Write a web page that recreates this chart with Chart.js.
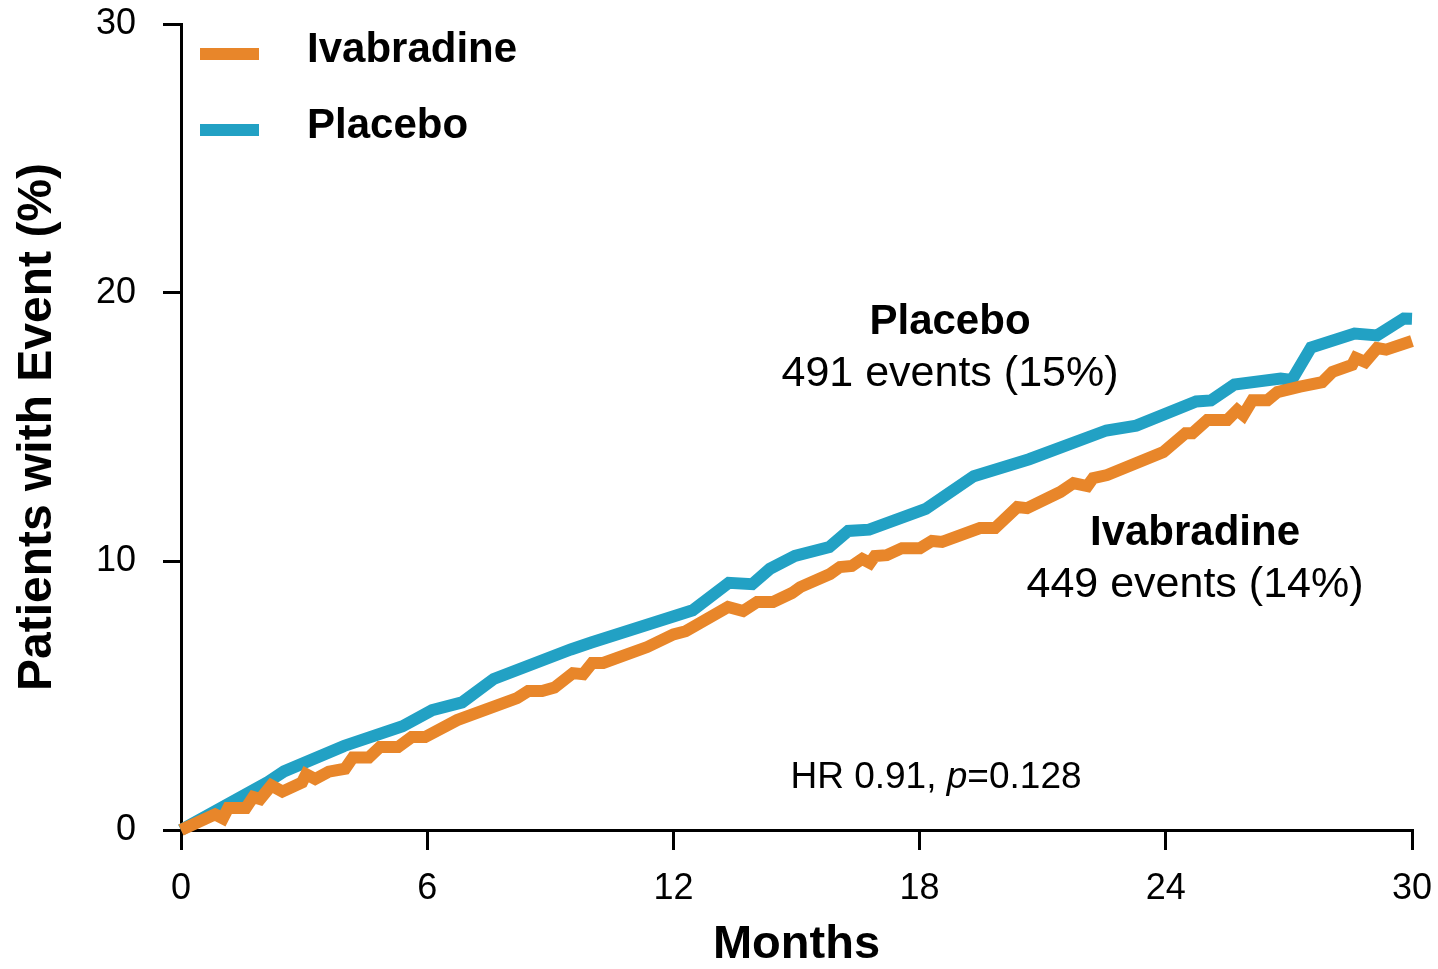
<!DOCTYPE html>
<html>
<head>
<meta charset="utf-8">
<script src="https://cdn.jsdelivr.net/npm/chart.js@4/dist/chart.umd.min.js"></script>
<style>
  html, body { margin: 0; padding: 0; background: #fff; }
  #wrap { width: 1438px; height: 969px; position: relative; }
</style>
</head>
<body>
<div id="wrap"><canvas id="myChart"></canvas></div>
<script>
"use strict"

// series names and colours
const seriesNames = ["Ivabradine", "Placebo"];
const seriesColors = ["#E8862A", "#22A1C4"];

// Ivabradine curve (months, % with event)
const ivaMonths = [0, 0.83, 1.02, 1.15, 1.58, 1.76, 1.93, 2.2, 2.47, 2.95, 3.05, 3.27, 3.6, 4.0, 4.19, 4.58, 4.85, 5.29, 5.62, 5.95,
  6.73, 8.19, 8.46, 8.8, 9.1, 9.55, 9.8, 10.02, 10.29, 11.36, 12.0, 12.3, 13.33, 13.7, 14.04, 14.43, 14.89, 15.09,
  15.82, 16.06, 16.35, 16.6, 16.79, 16.91, 17.2, 17.57, 18.01, 18.3, 18.55, 19.47, 19.84, 20.38, 20.62, 21.43,
  21.75, 22.09, 22.23, 22.57, 23.94, 24.48, 24.65, 25.01, 25.5, 25.74, 25.89, 26.11, 26.48, 26.72, 27.27, 27.81,
  28.06, 28.54, 28.63, 28.86, 29.15, 29.37, 30];
const ivaPct = [0, 0.58, 0.43, 0.82, 0.82, 1.23, 1.15, 1.66, 1.43, 1.77, 2.08, 1.9, 2.17, 2.28, 2.7, 2.7, 3.09, 3.09, 3.46, 3.46,
  4.09, 4.91, 5.17, 5.17, 5.3, 5.84, 5.8, 6.22, 6.22, 6.81, 7.28, 7.4, 8.3, 8.15, 8.49, 8.49, 8.82, 9.04,
  9.53, 9.79, 9.83, 10.09, 9.94, 10.2, 10.23, 10.49, 10.49, 10.76, 10.72, 11.24, 11.24, 12.02, 11.98, 12.58,
  12.91, 12.8, 13.1, 13.21, 14.07, 14.77, 14.77, 15.26, 15.26, 15.63, 15.44, 16.0, 16.0, 16.3, 16.5, 16.67,
  17.05, 17.31, 17.57, 17.42, 17.94, 17.88, 18.2];

// Placebo curve
const plaMonths = [0, 2.12, 2.51, 3.98, 5.4, 6.12, 6.85, 7.62, 9.5, 10.0, 12.47, 13.35, 13.92, 14.35, 14.96, 15.8, 16.26,
  16.77, 18.15, 19.32, 20.67, 22.55, 23.28, 24.74, 25.1, 25.67, 26.8, 27.07, 27.54, 28.6, 29.15, 29.8, 30];
const plaPct = [0, 1.79, 2.18, 3.13, 3.86, 4.46, 4.75, 5.62, 6.72, 6.98, 8.18, 9.2, 9.15, 9.72, 10.2, 10.53, 11.13,
  11.18, 11.95, 13.17, 13.8, 14.87, 15.05, 15.95, 15.99, 16.58, 16.8, 16.75, 17.96, 18.48, 18.41, 19.04, 19.03];

// axis ticks
const xTicks = [0, 6, 12, 18, 24, 30];
const yTicks = [0, 10, 20, 30];

// texts
const xTitle = "Months";
const yTitle = "Patients with Event (%)";
const placeboNote = ["Placebo", "491 events (15%)"];
const ivaNote = ["Ivabradine", "449 events (14%)"];
const hrNote = ["HR 0.91, ", "p", "=0.128"];

const fontFamily = "'Liberation Sans', Arial, Helvetica, sans-serif";

function toPoints(xs, ys) {
  const pts = [];
  for (let i = 0; i < xs.length; i++) {
    pts.push({ x: xs[i], y: ys[i] });
  }
  return pts;
}

// legend + annotations drawn on top
const notesPlugin = {
  id: "notes",
  afterDraw(chart) {
    const ctx = chart.ctx;
    ctx.save();
    ctx.fillStyle = "#000";

    // legend in the upper left
    const legendRows = [62, 138];
    for (let i = 0; i < seriesNames.length; i++) {
      ctx.fillStyle = seriesColors[i];
      ctx.fillRect(200, legendRows[i] - 14, 59, 12);
      ctx.fillStyle = "#000";
      ctx.font = "bold 42px " + fontFamily;
      ctx.textAlign = "left";
      ctx.textBaseline = "alphabetic";
      ctx.fillText(seriesNames[i], 307, legendRows[i]);
    }

    ctx.textAlign = "center";
    ctx.textBaseline = "middle";
    ctx.font = "bold 42px " + fontFamily;
    ctx.fillText(placeboNote[0], 950, 322);
    ctx.font = "43px " + fontFamily;
    ctx.fillText(placeboNote[1], 950, 374);

    ctx.font = "bold 42px " + fontFamily;
    ctx.fillText(ivaNote[0], 1195, 533);
    ctx.font = "43px " + fontFamily;
    ctx.fillText(ivaNote[1], 1195, 585);

    // HR line with italic p
    ctx.textAlign = "left";
    ctx.font = "37px " + fontFamily;
    const w1 = ctx.measureText(hrNote[0]).width;
    const w3 = ctx.measureText(hrNote[2]).width;
    ctx.font = "italic 37px " + fontFamily;
    const w2 = ctx.measureText(hrNote[1]).width;
    let x = 936 - (w1 + w2 + w3) / 2;
    ctx.font = "37px " + fontFamily;
    ctx.fillText(hrNote[0], x, 778);
    x += w1;
    ctx.font = "italic 37px " + fontFamily;
    ctx.fillText(hrNote[1], x, 778);
    x += w2;
    ctx.font = "37px " + fontFamily;
    ctx.fillText(hrNote[2], x, 778);

    ctx.restore();
  }
};

function init() {
  const ctx = document.getElementById("myChart").getContext("2d");
  new Chart(ctx, {
    type: "line",
    data: {
      datasets: [
        {
          label: seriesNames[0],
          data: toPoints(ivaMonths, ivaPct),
          borderColor: seriesColors[0],
          backgroundColor: seriesColors[0],
          borderWidth: 12,
          pointRadius: 0,
          tension: 0,
          clip: false
        },
        {
          label: seriesNames[1],
          data: toPoints(plaMonths, plaPct),
          borderColor: seriesColors[1],
          backgroundColor: seriesColors[1],
          borderWidth: 12,
          pointRadius: 0,
          tension: 0,
          clip: false
        }
      ]
    },
    options: {
      responsive: true,
      maintainAspectRatio: false,
      animation: false,
      events: [],
      layout: { padding: { top: 24, right: 26, left: 0, bottom: 0 } },
      plugins: {
        legend: { display: false },
        tooltip: { enabled: false }
      },
      scales: {
        x: {
          type: "linear",
          min: 0,
          max: 30,
          afterBuildTicks: (scale) => { scale.ticks = xTicks.map(v => ({ value: v })); },
          afterFit: (scale) => {
            scale.height = 139;
            scale.paddingLeft = 0;
            scale.paddingRight = 0;
          },
          ticks: {
            color: "#000",
            font: { family: fontFamily, size: 36 },
            padding: 17,
            maxRotation: 0,
            autoSkip: false
          },
          grid: { drawOnChartArea: false, drawTicks: true, tickLength: 20, color: "#000", lineWidth: 3 },
          border: { display: true, color: "#000", width: 3 },
          title: {
            display: true,
            text: xTitle,
            color: "#000",
            font: { family: fontFamily, size: 47, weight: "bold", lineHeight: 1 },
            padding: { top: 0, bottom: 0 }
          }
        },
        y: {
          min: 0,
          max: 30,
          afterBuildTicks: (scale) => { scale.ticks = yTicks.map(v => ({ value: v })); },
          afterFit: (scale) => {
            scale.width = 181;
            scale.paddingTop = 0;
            scale.paddingBottom = 0;
          },
          ticks: {
            color: "#000",
            font: { family: fontFamily, size: 36 },
            padding: 27,
            autoSkip: false
          },
          grid: { drawOnChartArea: false, drawTicks: true, tickLength: 18, color: "#000", lineWidth: 3 },
          border: { display: true, color: "#000", width: 3 },
          title: {
            display: true,
            text: yTitle,
            color: "#000",
            font: { family: fontFamily, size: 48, weight: "bold", lineHeight: 1 },
            padding: { top: 14, bottom: 0 }
          }
        }
      }
    },
    plugins: [notesPlugin]
  });
}

document.addEventListener("DOMContentLoaded", init);
</script>
</body>
</html>
